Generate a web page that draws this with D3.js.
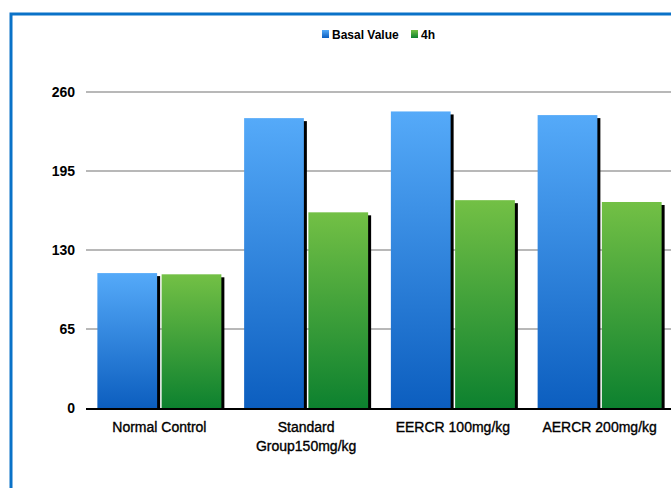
<!DOCTYPE html>
<html><head><meta charset="utf-8">
<script src="https://cdn.jsdelivr.net/npm/d3@7"></script>
<style>html,body{margin:0;padding:0;background:#fff;}svg{display:block;}</style>
</head><body>
<svg id="c" width="671" height="488"></svg>
<script>
const categories = ["Normal Control", "Standard Group150mg/kg", "EERCR 100mg/kg", "AERCR 200mg/kg"];
const categoryLines = [["Normal Control"], ["Standard", "Group150mg/kg"], ["EERCR 100mg/kg"], ["AERCR 200mg/kg"]];
const seriesNames = ["Basal Value", "4h"];
const basalValues = [111, 238.5, 244, 241];
const h4Values = [110, 161, 171, 169.5];
const yTicks = [0, 65, 130, 195, 260];

const svg = d3.select("#c");
const defs = svg.append("defs");
const gradStops = [
  ["gBlue", "#55aaf9", "#0c5ebf"],
  ["gGreen", "#73c045", "#0d812f"]
];
gradStops.forEach(([id, top, bot]) => {
  const g = defs.append("linearGradient").attr("id", id).attr("x1", 0).attr("y1", 0).attr("x2", 0).attr("y2", 1);
  g.append("stop").attr("offset", "0%").attr("stop-color", top);
  g.append("stop").attr("offset", "100%").attr("stop-color", bot);
});

const FONT = "Liberation Sans, Arial, sans-serif";

// frame
svg.append("path").attr("d", "M11,488 L11,14 L671,14").attr("fill", "none").attr("stroke", "#0a72c8").attr("stroke-width", 3);

const x0 = 86, x1 = 673, yTop = 92, yBot = 408;
const x = d3.scaleBand().domain(categories).range([x0, x1]).paddingInner(0.155).paddingOuter(0.0775);
const xs = d3.scaleBand().domain(seriesNames).range([0, x.bandwidth()]).paddingInner(0.07);
const y = d3.scaleLinear().domain([0, 260]).range([yBot, yTop]);

// grid
svg.append("g").selectAll("line").data(yTicks.slice(1)).join("line")
  .attr("x1", x0).attr("x2", 671).attr("y1", d => y(d)).attr("y2", d => y(d))
  .attr("stroke", "#b8b8b8").attr("stroke-width", 2);

// y labels
const yAxis = d3.axisLeft(y).tickValues(yTicks).tickSize(0).tickPadding(11);
const ya = svg.append("g").attr("transform", `translate(${x0},0)`).call(yAxis);
ya.select(".domain").remove();
ya.selectAll("text").attr("font-family", FONT).attr("font-size", 14).attr("fill", "#000").attr("font-weight", "bold");

const series = [
  {name: seriesNames[0], values: basalValues, fill: "url(#gBlue)"},
  {name: seriesNames[1], values: h4Values, fill: "url(#gGreen)"}
];

const groups = svg.append("g");
series.forEach(s => {
  const g = groups.append("g");
  g.selectAll("rect.sh").data(categories).join("rect").attr("class", "sh")
    .attr("x", (c) => x(c) + xs(s.name) + 3)
    .attr("y", (c, i) => y(s.values[i]) + 3)
    .attr("width", xs.bandwidth())
    .attr("height", (c, i) => yBot - y(s.values[i]) - 3)
    .attr("fill", "#000");
  g.selectAll("rect.bar").data(categories).join("rect").attr("class", "bar")
    .attr("x", (c) => x(c) + xs(s.name))
    .attr("y", (c, i) => y(s.values[i]))
    .attr("width", xs.bandwidth())
    .attr("height", (c, i) => yBot - y(s.values[i]))
    .attr("fill", s.fill);
});

// baseline
svg.append("line").attr("x1", x0).attr("x2", 671).attr("y1", yBot + 1).attr("y2", yBot + 1).attr("stroke", "#000").attr("stroke-width", 2);

// x labels
const xl = svg.append("g");
categories.forEach((c, i) => {
  const cx = x(c) + x.bandwidth() / 2;
  const t = xl.append("text").attr("x", cx).attr("y", 432)
    .attr("text-anchor", "middle").attr("font-family", FONT)
    .attr("font-size", 14).attr("fill", "#000").attr("stroke", "#000").attr("stroke-width", 0.35);
  categoryLines[i].forEach((ln, k) => {
    t.append("tspan").attr("x", cx).attr("dy", k === 0 ? 0 : 19).text(ln);
  });
});

// legend
const leg = svg.append("g");
const legItems = [
  {name: seriesNames[0], fill: "url(#gBlue)", x: 322},
  {name: seriesNames[1], fill: "url(#gGreen)", x: 411}
];
legItems.forEach(l => {
  leg.append("rect").attr("x", l.x).attr("y", 30).attr("width", 7).attr("height", 8).attr("fill", l.fill);
  leg.append("text").attr("x", l.x + 10).attr("y", 38.5).attr("font-family", FONT)
    .attr("font-size", 12).attr("font-weight", "bold").attr("fill", "#000").text(l.name);
});
</script>
</body></html>
